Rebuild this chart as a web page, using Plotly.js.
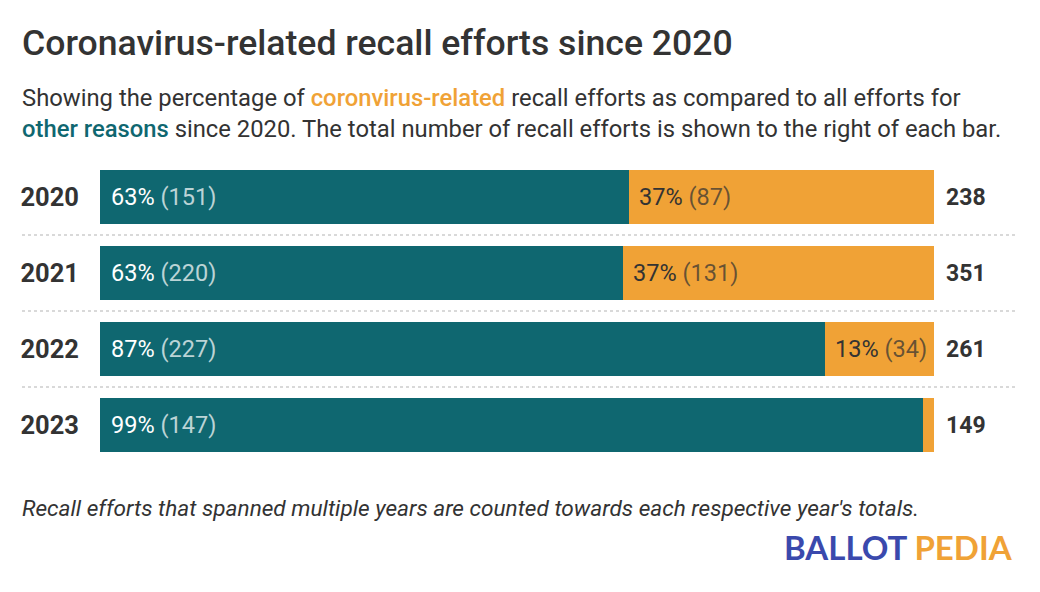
<!DOCTYPE html>
<html>
<head>
<meta charset="utf-8">
<script src="https://cdn.plot.ly/plotly-3.0.1.min.js"></script>
<style>
html,body{margin:0;padding:0;background:#fff;}
#chart{width:1040px;height:592px;}
</style>
</head>
<body>
<div id="chart"></div>
<script>
const years = ['2020', '2021', '2022', '2023'];
const otherCounts = [151, 220, 227, 147];
const covidCounts = [87, 131, 34, 2];
const totals = [238, 351, 261, 149];

const teal = '#0f6770';
const orange = '#f0a236';
const FONT = 'Roboto, "Noto Sans", sans-serif';

const otherFrac = otherCounts.map((v, i) => v / totals[i]);
const covidFrac = covidCounts.map((v, i) => v / totals[i]);

const traces = [
  {
    type: 'bar', orientation: 'h', y: years, x: otherFrac,
    marker: {color: teal, line: {width: 0}}, width: 0.71,
    hoverinfo: 'skip', showlegend: false
  },
  {
    type: 'bar', orientation: 'h', y: years, x: covidFrac,
    marker: {color: orange, line: {width: 0}}, width: 0.71,
    hoverinfo: 'skip', showlegend: false
  }
];

const annotations = [];
years.forEach((yr, i) => {
  const po = Math.round(otherFrac[i] * 100);
  const pc = Math.round(covidFrac[i] * 100);
  annotations.push({
    xref: 'x', yref: 'y', x: 0, y: i, xanchor: 'left', yanchor: 'middle',
    xshift: 9, showarrow: false,
    text: po + '% <span style="color:rgba(255,255,255,0.72)">(' + otherCounts[i] + ')</span>',
    font: {family: FONT, size: 23.5, color: '#ffffff'}
  });
  if (pc >= 5) {
    annotations.push({
      xref: 'x', yref: 'y', x: otherFrac[i], y: i, xanchor: 'left', yanchor: 'middle',
      xshift: 8, showarrow: false,
      text: pc + '% <span style="color:rgba(51,51,51,0.72)">(' + covidCounts[i] + ')</span>',
      font: {family: FONT, size: 23.5, color: '#333333'}
    });
  }
  annotations.push({
    xref: 'x', yref: 'y', x: otherFrac[i] + covidFrac[i], y: i, xanchor: 'left', yanchor: 'middle',
    xshift: 10, showarrow: false,
    text: String(totals[i]),
    font: {family: FONT, size: 23, color: '#333333', weight: 'bold'}
  });
});

// Title, subtitle, note, logo
annotations.push({
  xref: 'paper', yref: 'paper', x: -80/834, y: 1 + (159 - 20) / 304,
  xanchor: 'left', yanchor: 'top', showarrow: false, align: 'left',
  text: 'Coronavirus-related recall efforts since 2020',
  font: {family: FONT, size: 35.6, color: '#333333', weight: 500}
});
annotations.push({
  xref: 'paper', yref: 'paper', x: -80/834, y: 1 + (159 - 82) / 304,
  xanchor: 'left', yanchor: 'top', showarrow: false, align: 'left',
  text: 'Showing the percentage of <span style="color:' + orange + ';font-weight:500">coronvirus-related</span> recall efforts as compared to all efforts for<br>' +
        '<span style="color:' + teal + ';font-weight:500">other reasons</span> since 2020. The total number of recall efforts is shown to the right of each bar.',
  font: {family: FONT, size: 23.8, color: '#333333'}
});
annotations.push({
  xref: 'paper', yref: 'paper', x: -80/834, y: -(493 - 463) / 304,
  xanchor: 'left', yanchor: 'top', showarrow: false, align: 'left',
  text: '<i>Recall efforts that spanned multiple years are counted towards each respective year\'s totals.</i>',
  font: {family: FONT, size: 22.6, color: '#333333'}
});
annotations.push({
  xref: 'paper', yref: 'paper', x: (1015 - 100)/834, y: -(547 - 463) / 304,
  xanchor: 'right', yanchor: 'middle', showarrow: false, align: 'right',
  text: '<span style="color:#3a49ad">BALLOT</span> <span style="color:' + orange + '">PEDIA</span>',
  font: {family: 'Lato, "Open Sans", sans-serif', size: 33, color: '#3a49ad', weight: 'bold'}
});

const shapes = [0.5, 1.5, 2.5].map(v => ({
  type: 'line', xref: 'paper', yref: 'y',
  x0: -78/834, x1: (1018 - 100)/834, y0: v, y1: v,
  line: {color: '#d9d9d9', width: 2, dash: 'dot'}
}));

const layout = {
  width: 1040, height: 592,
  margin: {l: 100, r: 106, t: 159, b: 129, pad: 0},
  paper_bgcolor: '#ffffff', plot_bgcolor: '#ffffff',
  barmode: 'stack', bargap: 0.29,
  xaxis: {range: [0, 1], visible: false, fixedrange: true},
  yaxis: {
    type: 'category', autorange: false, range: [3.5, -0.5],
    showgrid: false, zeroline: false, showline: false, ticks: '',
    ticklabelstandoff: 20,
    tickfont: {family: FONT, size: 25.5, color: '#333333', weight: 'bold'},
    fixedrange: true
  },
  showlegend: false,
  annotations: annotations,
  shapes: shapes,
  font: {family: FONT}
};

Plotly.newPlot('chart', traces, layout, {displayModeBar: false, staticPlot: true});
</script>
</body>
</html>
